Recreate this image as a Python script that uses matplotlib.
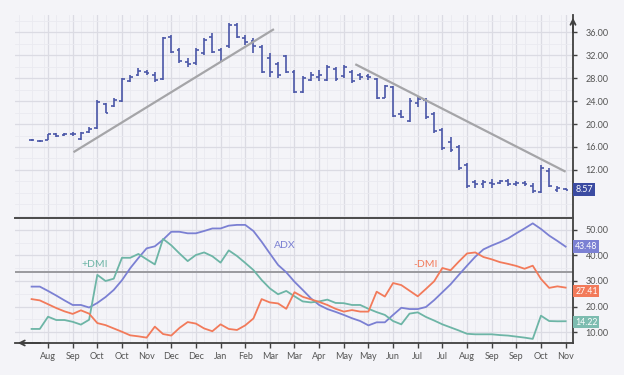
"""
Graphique prix (barres OHLC) + indicateur DMI / ADX
"""
import numpy as np
import matplotlib
matplotlib.use('Agg')
import matplotlib.pyplot as plt
import matplotlib.transforms as mtransforms
from matplotlib.ticker import FixedLocator, MultipleLocator

# Donnees (une barre par semaine)
months = ['Aug', 'Sep', 'Oct', 'Oct', 'Nov', 'Dec', 'Dec', 'Jan', 'Feb', 'Mar', 'Mar',
          'Apr', 'May', 'May', 'Jun', 'Jul', 'Jul', 'Aug', 'Sep', 'Sep', 'Oct', 'Nov']

high = [17.4, 17.3, 18.3, 18.4, 18.4, 18.6, 18.6, 19.5, 24.2, 23.6, 24.5, 28.0, 28.5, 29.7,
        29.4, 29.0, 35.1, 35.5, 33.2, 31.5, 33.2, 34.9, 35.8, 33.2, 37.6, 37.5, 35.5, 34.9,
        33.7, 32.3, 30.8, 32.0, 29.4, 28.3, 29.0, 29.4, 30.3, 30.0, 30.3, 29.4, 28.8, 28.7,
        28.0, 26.8, 26.6, 22.4, 24.5, 24.7, 24.5, 22.1, 19.3, 17.7, 16.3, 13.2, 10.3, 10.3,
        10.5, 10.3, 10.4, 10.0, 10.0, 9.7, 12.9, 12.3, 9.2, 8.8]
low = [17.0, 16.9, 17.2, 17.8, 18.0, 17.9, 17.3, 18.4, 19.1, 21.9, 23.0, 23.8, 27.3, 28.3,
       28.5, 27.3, 27.7, 32.3, 30.6, 30.0, 30.3, 32.0, 32.3, 30.8, 33.2, 34.9, 33.7, 32.3,
       28.8, 28.2, 28.0, 28.8, 25.4, 25.4, 27.4, 27.4, 27.4, 27.4, 28.0, 27.1, 27.7, 27.7,
       24.3, 24.5, 21.2, 21.0, 20.3, 23.0, 20.9, 18.4, 15.5, 15.1, 12.0, 8.9, 8.9, 8.9,
       8.9, 9.5, 9.3, 9.2, 9.3, 8.0, 8.0, 9.0, 8.2, 8.5]
open_ = [17.2, 17.1, 17.3, 18.3, 18.1, 18.3, 17.4, 18.6, 19.3, 23.4, 23.2, 24.0, 27.5, 28.6,
         29.0, 28.6, 27.8, 35.2, 32.8, 30.8, 30.6, 32.3, 35.2, 32.8, 33.5, 37.3, 35.0, 34.5,
         33.4, 31.5, 30.5, 31.8, 29.0, 25.6, 27.6, 28.2, 27.6, 29.6, 28.3, 29.0, 28.5, 28.4,
         27.8, 24.6, 26.4, 21.8, 20.6, 23.6, 24.2, 21.8, 19.0, 16.8, 16.0, 12.8, 9.9, 9.5,
         9.8, 9.8, 10.1, 9.6, 9.7, 9.3, 8.2, 11.8, 8.5, 8.7]
close = [17.2, 17.1, 18.2, 17.9, 18.2, 18.2, 18.4, 19.2, 23.8, 22.0, 24.2, 27.8, 28.2, 29.2,
         28.9, 27.6, 35.0, 32.6, 31.0, 30.4, 32.8, 34.6, 32.6, 31.0, 37.2, 35.2, 34.2, 33.5,
         29.0, 29.0, 28.6, 29.0, 25.6, 28.0, 28.5, 28.6, 30.0, 27.8, 30.0, 27.5, 28.2, 28.1,
         24.5, 26.6, 21.4, 21.2, 24.0, 24.3, 21.3, 18.7, 15.8, 15.5, 12.3, 9.3, 9.6, 9.9,
         9.6, 10.0, 9.6, 9.7, 9.6, 8.3, 12.4, 9.3, 8.9, 8.57]

# lignes de tendance (debut, fin) en index de barre / prix
trend_up_x = [5.1, 29.5]
trend_up_y = [15.1, 36.5]
trend_down_x = [39.4, 65.0]
trend_down_y = [30.4, 11.7]

adx = [27.8, 27.8, 26.1, 24.3, 22.4, 20.6, 20.6, 19.6, 21.4, 23.7, 26.5, 30.3, 35.0, 39.0,
       42.8, 43.6, 46.2, 49.3, 49.3, 48.7, 48.7, 49.6, 50.6, 50.6, 51.7, 52.0, 52.0, 49.6,
       45.4, 40.8, 36.3, 33.4, 29.7, 26.5, 23.2, 20.6, 19.0, 17.9, 16.7, 15.4, 14.3, 12.6,
       13.8, 13.8, 16.7, 19.5, 19.0, 19.0, 19.8, 22.5, 25.6, 28.7, 32.4, 36.0, 39.5, 42.4,
       43.9, 45.2, 46.7, 48.7, 50.6, 52.6, 50.4, 47.8, 45.7, 43.48]
plus_dmi = [11.2, 11.2, 16.0, 14.7, 14.7, 14.0, 12.9, 14.8, 32.4, 30.0, 30.9, 39.1, 39.1, 40.6,
            38.5, 36.5, 46.5, 44.0, 40.8, 37.8, 40.2, 41.2, 39.7, 37.2, 42.0, 39.8, 37.1, 34.3,
            30.4, 27.1, 24.8, 26.1, 24.0, 22.0, 21.6, 22.0, 22.7, 21.4, 21.3, 20.6, 20.6, 19.1,
            17.8, 16.7, 14.3, 13.0, 17.2, 17.7, 15.9, 14.5, 13.0, 11.8, 10.6, 9.3, 9.1, 9.1,
            9.1, 8.8, 8.6, 8.2, 7.8, 7.3, 16.4, 14.3, 14.2, 14.22]
minus_dmi = [22.9, 22.4, 20.9, 19.4, 18.1, 17.1, 18.5, 17.2, 13.5, 12.7, 11.4, 10.1, 8.7, 8.3,
             7.8, 12.1, 9.2, 8.6, 11.6, 13.9, 13.3, 11.4, 10.3, 13.0, 11.2, 10.8, 12.6, 15.3,
             22.9, 21.6, 21.2, 19.1, 25.6, 23.8, 22.8, 21.8, 20.6, 19.1, 18.0, 18.6, 18.0, 18.0,
             25.8, 23.9, 29.2, 28.4, 26.2, 24.0, 26.9, 29.9, 35.1, 34.2, 37.6, 40.8, 41.2, 39.4,
             38.5, 37.4, 36.7, 35.9, 34.8, 36.0, 30.8, 27.3, 27.9, 27.41]

# Couleurs
BG = '#f4f4f8'
BAR_COL = '#4b57a8'
ADX_COL = '#7b80d3'
PLUS_COL = '#6db5a6'
MINUS_COL = '#f27a5a'
AXIS_COL = '#404040'
TXT_COL = '#555555'

plt.rcParams['font.family'] = ['Lato', 'DejaVu Sans']

x = np.arange(len(high))
tick_pos = np.arange(2, len(high), 3)

fig = plt.figure(figsize=(6.24, 3.75), dpi=100, facecolor=BG)
ax1 = fig.add_axes([15 / 624, 1 - 218 / 375, 558 / 624, 203 / 375])
ax2 = fig.add_axes([15 / 624, 1 - 343 / 375, 558 / 624, 125 / 375], sharex=ax1)

for ax in (ax1, ax2):
    ax.set_facecolor(BG)
    ax.xaxis.set_major_locator(FixedLocator(tick_pos))
    ax.xaxis.set_minor_locator(MultipleLocator(1.5))
    ax.grid(True, which='major', color='#dbdbe3', lw=0.9)
    ax.grid(True, which='minor', color='#eaeaf0', lw=0.6)
    ax.set_axisbelow(True)
    ax.yaxis.tick_right()
    ax.tick_params(axis='y', which='major', direction='out', length=3, width=1,
                   color=AXIS_COL, labelsize=6.5, labelcolor=TXT_COL, pad=6)
    ax.tick_params(which='minor', length=0)
    for side in ('left', 'top', 'bottom'):
        ax.spines[side].set_visible(False)
    ax.spines['right'].set_color(AXIS_COL)
    ax.spines['right'].set_linewidth(1.3)

ax1.set_xlim(-2.02, 65.9)

# --- Panneau prix ---
ax1.set_ylim(3.65, 38.96)
ax1.yaxis.set_major_locator(FixedLocator(np.arange(12, 37, 4)))
ax1.yaxis.set_minor_locator(MultipleLocator(2))
ax1.yaxis.set_major_formatter(lambda v, p: f'{v:.2f}')
ax1.tick_params(axis='x', which='both', length=0, labelbottom=False)

ax1.vlines(x, low, high, color=BAR_COL, lw=1.2)
ax1.hlines(open_, x - 0.35, x, color=BAR_COL, lw=1.2)
ax1.hlines(close, x, x + 0.35, color=BAR_COL, lw=1.2)
ax1.plot(trend_up_x, trend_up_y, color='#a5a5a8', lw=1.6, solid_capstyle='butt')
ax1.plot(trend_down_x, trend_down_y, color='#a5a5a8', lw=1.6, solid_capstyle='butt')

trans1 = mtransforms.blended_transform_factory(ax1.transAxes, ax1.transData)
ax1.text(1.004, close[-1], f'{close[-1]:.2f}', transform=trans1, ha='left', va='center',
         color='white', fontsize=6.5,
         bbox=dict(boxstyle='square,pad=0.25', fc='#3b4ba2', ec='none'))

# fleche en haut de l'axe
ax1.annotate('', xy=(1, 1.0), xytext=(1, 0.9), xycoords='axes fraction',
             arrowprops=dict(arrowstyle='->', color=AXIS_COL, lw=1.3, mutation_scale=9))

# --- Panneau DMI / ADX ---
ax2.set_ylim(5.69, 54.7)
ax2.yaxis.set_major_locator(FixedLocator(np.arange(10, 51, 10)))
ax2.yaxis.set_minor_locator(MultipleLocator(5))
ax2.yaxis.set_major_formatter(lambda v, p: f'{v:.2f}')
ax2.spines['top'].set_visible(True)
ax2.spines['top'].set_color('#4a4a4a')
ax2.spines['top'].set_linewidth(1.4)
ax2.spines['bottom'].set_visible(True)
ax2.spines['bottom'].set_color(AXIS_COL)
ax2.spines['bottom'].set_linewidth(1.3)
ax2.set_xticks(tick_pos)
ax2.set_xticklabels(months)
ax2.tick_params(axis='x', which='major', direction='out', length=3.5, width=1,
                color=AXIS_COL, labelsize=6.5, labelcolor=TXT_COL, pad=3)

ax2.axhline(33.5, color='#9a9a9e', lw=1.4)
ax2.plot(x, adx, color=ADX_COL, lw=1.3)
ax2.plot(x, plus_dmi, color=PLUS_COL, lw=1.3)
ax2.plot(x, minus_dmi, color=MINUS_COL, lw=1.3)

ax2.text(7.7, 36.3, '+DMI', color=PLUS_COL, fontsize=7.5, ha='center', va='center')
ax2.text(30.8, 44.1, 'ADX', color=ADX_COL, fontsize=7.5, ha='center', va='center')
ax2.text(48.0, 36.3, '-DMI', color=MINUS_COL, fontsize=7.5, ha='center', va='center')

# etiquettes des dernieres valeurs (decalage vertical leger pour ne pas cacher 30.00)
trans2 = mtransforms.blended_transform_factory(ax2.transAxes, ax2.transData)
last_labels = [(adx[-1], ADX_COL, 0.0), (minus_dmi[-1], MINUS_COL, -1.4),
               (plus_dmi[-1], '#7dbcb0', -0.3)]
for val, col, shift in last_labels:
    ax2.text(1.004, val + shift, f'{val:.2f}', transform=trans2, ha='left', va='center',
             color='white', fontsize=6.3, zorder=5,
             bbox=dict(boxstyle='square,pad=0.2', fc=col, ec='none'))

# fleche a gauche de l'axe x
ax2.annotate('', xy=(0, 0), xytext=(0.05, 0), xycoords='axes fraction',
             arrowprops=dict(arrowstyle='->', color=AXIS_COL, lw=1.3, mutation_scale=9))

fig.savefig('out.png', dpi=100, facecolor=BG)
